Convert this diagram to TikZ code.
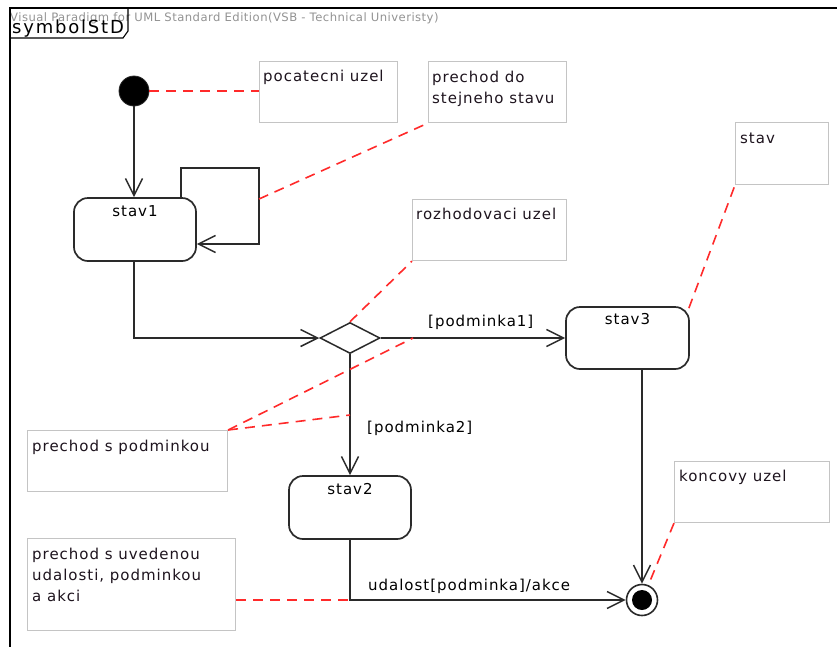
\documentclass[tikz,border=0pt]{standalone}
\usepackage{fontspec}
\setmainfont{DejaVu Sans}
\newfontfamily\vpfont[LetterSpace=6.5]{DejaVu Sans}
\newfontfamily\vptitle[LetterSpace=10]{DejaVu Sans}
\newfontfamily\vphead[LetterSpace=4]{DejaVu Sans}
\usetikzlibrary{arrows.meta,shapes.geometric}
\definecolor{linec}{HTML}{2A2A2A}
\definecolor{notec}{HTML}{C4C4C4}
\definecolor{redc}{HTML}{FF2A2A}
\definecolor{txtc}{HTML}{1E141E}
\begin{document}
\begin{tikzpicture}[x=1pt,y=-1pt,
  statebox/.style={draw=linec, line width=1.7pt, rounded corners=14pt, inner sep=0pt},
  notebox/.style={draw=notec, line width=1.1pt, inner sep=0pt, anchor=north west},
  notetext/.style={font=\vpfont\fontsize{15}{21}\selectfont, text=txtc, inner sep=0pt, anchor=base west, align=left},
  lbl/.style={font=\vpfont\fontsize{15}{21}\selectfont, text=black, inner sep=0pt},
  flow/.style={draw=linec, line width=1.5pt, -{Straight Barb[length=17pt,width=17pt,line width=1.5pt]}},
  notelink/.style={draw=redc, line width=1.6pt, dash pattern=on 10pt off 7pt},
]
\useasboundingbox (0,0) rectangle (837,646);
\fill[white] (0,0) rectangle (837,646);

% frame and header
\node[anchor=base west, inner sep=0pt, text=gray!85, font=\vphead\fontsize{11.6}{13}\selectfont] (hdr) at (10,21.5) {Visual Paradigm for UML Standard Edition(VSB - Technical Univeristy)};
\draw[black, line width=1.1pt] (10,660) -- (10,8) -- (850,8);
\draw[black, line width=1.1pt] (10,38) -- (123,38) -- (128,31) -- (128,8);
\node[anchor=base west, inner sep=0pt, font=\vptitle\fontsize{18}{20}\selectfont] (title) at (12,33) {symbolStD};

% notes
\node[notebox, minimum width=138pt, minimum height=61pt] (n1) at (259,61) {};
\node[notetext] (t1) at (263,81) {pocatecni uzel};
\node[notebox, minimum width=138pt, minimum height=61pt] (n2) at (428,61) {};
\node[notetext] (t2a) at (432,82) {prechod do};
\node[notetext] (t2b) at (432,103) {stejneho stavu};
\node[notebox, minimum width=154pt, minimum height=61pt] (n3) at (412,199) {};
\node[notetext] (t3) at (416,219) {rozhodovaci uzel};
\node[notebox, minimum width=93pt, minimum height=62pt] (n4) at (735,122) {};
\node[notetext] (t4) at (740,143) {stav};
\node[notebox, minimum width=200pt, minimum height=61pt] (n5) at (27,430) {};
\node[notetext] (t5) at (32,451) {prechod s podminkou};
\node[notebox, minimum width=155pt, minimum height=61pt] (n6) at (674,461) {};
\node[notetext] (t6) at (679,481) {koncovy uzel};
\node[notebox, minimum width=208pt, minimum height=92pt] (n7) at (27,538) {};
\node[notetext] (t7a) at (32,559) {prechod s uvedenou};
\node[notetext] (t7b) at (32,580) {udalosti, podminkou};
\node[notetext] (t7c) at (32,601) {a akci};

% states
\node[statebox, minimum width=122pt, minimum height=63pt] (stav1) at (135,229.5) {};
\node[lbl, anchor=base] (s1) at (135,216.5) {stav1};
\node[statebox, minimum width=123pt, minimum height=62pt] (stav3) at (627.5,338) {};
\node[lbl, anchor=base] (s3) at (627.5,324.5) {stav3};
\node[statebox, minimum width=122pt, minimum height=63pt] (stav2) at (350,507.5) {};
\node[lbl, anchor=base] (s2) at (350,494.5) {stav2};

% pseudo states
\node[circle, fill=black, draw=linec, line width=0.8pt, minimum size=30pt, inner sep=0pt] (init) at (134,91) {};
\node[diamond, draw=linec, line width=1.5pt, minimum width=60pt, minimum height=31pt, inner sep=0pt] (dec) at (350,338) {};
\node[circle, draw=linec, line width=1.6pt, minimum size=31pt, inner sep=0pt] (fin) at (642,600) {};
\node[circle, fill=black, minimum size=20pt, inner sep=0pt] (fini) at (fin.center) {};

% helper coordinates
\coordinate (loopA) at (181,168);
\coordinate (loopB) at (259,244);
\coordinate (loopR) at (259,199);
\coordinate (p1) at (413,338);
\coordinate (p2) at (350,415);
\coordinate (c2) at (350,600);

% transitions
\draw[flow] (init) -- (init |- stav1.north);
\draw[flow] (stav1.north -| loopA) -- (loopA) -- (loopA -| loopB) -- (loopB) -- (loopB -| stav1.east);
\draw[flow] (stav1.south -| init) |- (dec.west);
\draw[flow] (dec.east) -- (stav3.west);
\node[lbl, anchor=base west] (l1) at (428,326) {[podminka1]};
\draw[flow] (dec.south) -- (stav2.north);
\node[lbl, anchor=base west] (l2) at (367,432) {[podminka2]};
\draw[flow] (stav2.south) |- (fin.west);
\node[lbl, anchor=base west] (l3) at (368,590) {udalost[podminka]/akce};
\draw[flow] (fin.north |- stav3.south) -- (fin.north);

% note links
\draw[notelink] (init.east) -- (init.east -| n1.west);
\draw[notelink] (loopR) -- (n2.south west);
\draw[notelink] (dec.north) -- (n3.south west);
\draw[notelink] ([shift={(-1,2)}]stav3.north east) -- (n4.south west);
\draw[notelink] (n5.north east) -- (p1);
\draw[notelink] (n5.north east) -- (p2);
\draw[notelink] (n6.south west) -- (fin.67);
\draw[notelink] (c2 -| n7.east) -- (c2);
\end{tikzpicture}
\end{document}
